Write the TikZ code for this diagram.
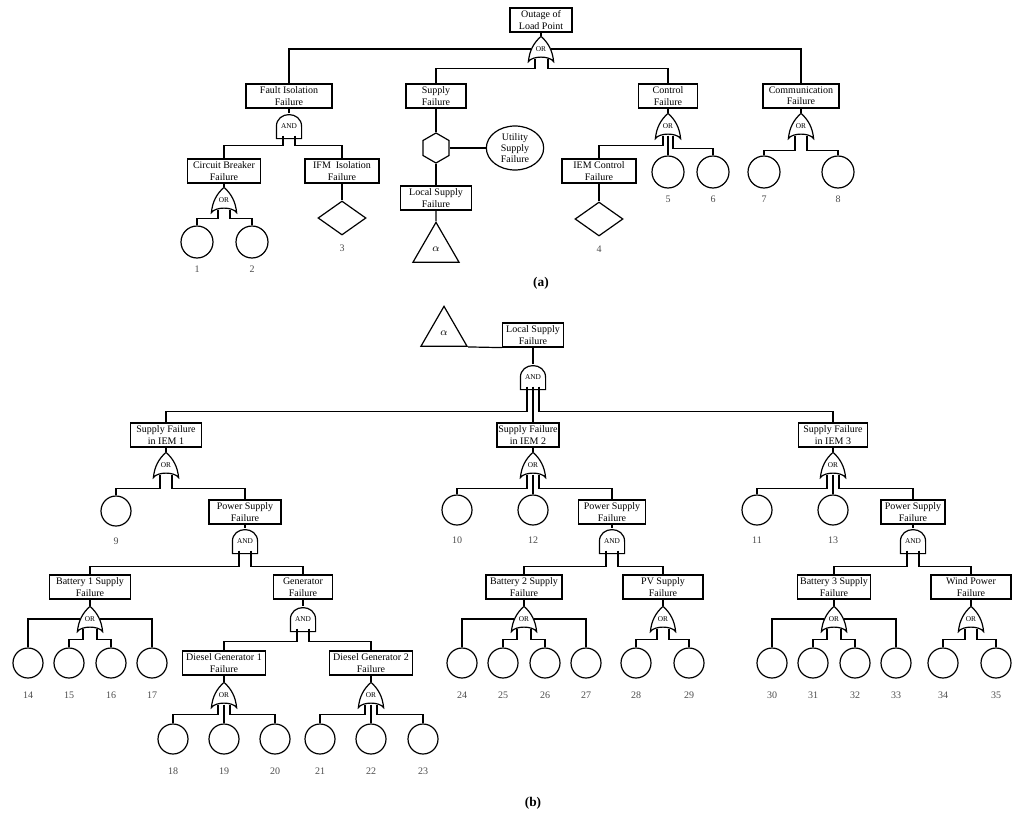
\documentclass[tikz,border=0pt]{standalone}
\usepackage{fontspec}
\setmainfont{Liberation Serif}
\usetikzlibrary{calc,shapes.geometric}
\newcommand\orsh[1]{\draw (#1.south west) .. controls ($(#1.south west)+(1,-11)$) and ($(#1.north)+(-7,6)$) .. (#1.north) .. controls ($(#1.north)+(7,6)$) and ($(#1.south east)+(-1,-11)$) .. (#1.south east) .. controls ($(#1.south east)+(-4,-6)$) and ($(#1.south west)+(4,-6)$) .. cycle;}
\newcommand\andsh[1]{\draw (#1.south west) -- ($(#1.south west)+(0,-12)$) .. controls ($(#1.south west)+(0,-28)$) and ($(#1.south east)+(0,-28)$) .. ($(#1.south east)+(0,-12)$) -- (#1.south east) -- cycle;}
\newcommand\leg[4]{\draw ($(#1.south)+(#2,-3)$) -- ($(#1.south)+(#2,#3)$) -| (#4.north);}
\begin{document}
\begin{tikzpicture}[x=0.75pt,y=-0.75pt,line width=0.9pt,
 box/.style={draw,align=center,minimum width=#1*0.75pt,minimum height=18pt,inner sep=1pt,font=\fontsize{7.5}{8.6}\selectfont},
 gate/.style={minimum width=18pt,minimum height=18pt,inner sep=0pt,font=\fontsize{5.5}{6}\selectfont},
 ev/.style={draw,circle,minimum size=#1*0.75pt,inner sep=0pt},
 num/.style={font=\fontsize{7.5}{8}\selectfont,text=black!70},
 dia/.style={draw,diamond,minimum width=36pt,minimum height=25.5pt,inner sep=0pt},
 tri/.style={draw,regular polygon,regular polygon sides=3,minimum size=40pt,inner sep=0pt,font=\fontsize{8}{9}\selectfont},
 lab/.style={font=\fontsize{10}{12}\selectfont\bfseries}]
\useasboundingbox (0,0) rectangle (1024,821);
% ===== (a) =====
\node[box=62] (top) at (541,20) {Outage of\\Load Point};
\node[gate] (g0) at (541,49) {OR}; \orsh{g0}
\node[box=86] (fi) at (289,96) {Fault Isolation\\Failure};
\node[box=60] (sf) at (436,96) {Supply\\Failure};
\node[box=59] (cf) at (668,96) {Control\\Failure};
\node[box=76] (cm) at (801,96) {Communication\\Failure};
\draw (top.south) -- (g0.north);
\draw ($(g0.west)+(3,0)$) -| (fi.north);
\draw ($(g0.east)+(-3,0)$) -| (cm.north);
\leg{g0}{-6}{7}{sf}
\leg{g0}{7}{7}{cf}
\node[gate] (fiA) at (289,126) {AND}; \andsh{fiA}
\draw (fi.south) -- (fiA.north);
\node[box=73] (cb) at (224,171) {Circuit Breaker\\Failure};
\node[box=74] (ifm) at (342,171) {IFM\ \ Isolation\\Failure};
\leg{fiA}{-6}{7}{cb}
\leg{fiA}{6}{7}{ifm}
\node[gate] (cbO) at (224,200) {OR}; \orsh{cbO}
\draw (cb.south) -- (cbO.north);
\node[ev=32,label={[num,label distance=2pt]below:1}] (c1) at (197,242) {};
\node[ev=32,label={[num,label distance=2pt]below:2}] (c2) at (252,242) {};
\leg{cbO}{-6}{6}{c1}
\leg{cbO}{6}{6}{c2}
\node[dia,label={[num,label distance=3pt]below:3}] (d3) at (342,218) {};
\draw (ifm.south) -- (d3.north);
\node[draw,regular polygon,regular polygon sides=6,shape border rotate=30,minimum size=22.5pt,inner sep=0pt] (hex) at (436,148) {};
\node[draw,ellipse,minimum width=43pt,minimum height=33pt,inner sep=0pt,align=center,font=\fontsize{7.5}{8.4}\selectfont] (ut) at (515,148) {Utility\\Supply\\Failure};
\draw (sf.south) -- (hex.north);
\draw (hex.east) -- (ut.west);
\node[box=71] (lsa) at (436,198) {Local Supply\\Failure};
\draw (hex.south) -- (lsa.north);
\node[tri] (ta) at (436,249) {$\alpha$};
\draw (lsa.south) -- (ta.north);
\node[gate] (cfO) at (668,126) {OR}; \orsh{cfO}
\draw (cf.south) -- (cfO.north);
\node[box=74] (iemc) at (599,171) {IEM Control\\Failure};
\node[ev=32,label={[num,label distance=2pt]below:5}] (c5) at (668,172) {};
\node[ev=32,label={[num,label distance=2pt]below:6}] (c6) at (713,172) {};
\leg{cfO}{-5}{7}{iemc}
\leg{cfO}{0}{7}{c5}
\leg{cfO}{5}{10}{c6}
\node[dia,label={[num,label distance=3pt]below:4}] (d4) at (599,219) {};
\draw (iemc.south) -- (d4.north);
\node[gate] (cmO) at (801,126) {OR}; \orsh{cmO}
\draw (cm.south) -- (cmO.north);
\node[ev=32,label={[num,label distance=2pt]below:7}] (c7) at (764,172) {};
\node[ev=32,label={[num,label distance=2pt]below:8}] (c8) at (838,172) {};
\leg{cmO}{-6}{12}{c7}
\leg{cmO}{6}{12}{c8}
\node[lab] (la) at (541,283) {(a)};
% ===== (b) =====
\node[tri] (tb) at (444,333) {$\alpha$};
\node[box=61] (lsb) at (533,335) {Local Supply\\Failure};
\draw (tb.corner 3) -- (lsb.south west);
\node[gate] (lsA) at (533,377) {AND}; \andsh{lsA}
\draw (lsb.south) -- (lsA.north);
\node[box=71] (i1) at (166,435) {Supply Failure\\in IEM 1};
\node[box=62] (i2) at (528,435) {Supply Failure\\in IEM 2};
\node[box=69] (i3) at (833,435) {Supply Failure\\in IEM 3};
\leg{lsA}{-6}{22}{i1}
\draw ($(lsA.south)+(0,-3)$) -- (lsA.south |- i2.north);
\leg{lsA}{6}{22}{i3}
% IEM1
\node[gate] (o1) at (166,465) {OR}; \orsh{o1}
\draw (i1.south) -- (o1.north);
\node[ev=30,label={[num,label distance=5pt]below:9}] (c9) at (116,511) {};
\node[box=72] (p1) at (245,512) {Power Supply\\Failure};
\leg{o1}{-6}{11}{c9}
\leg{o1}{6}{11}{p1}
\node[gate] (pa1) at (245,541) {AND}; \andsh{pa1}
\draw (p1.south) -- (pa1.north);
\node[box=81] (b1) at (90,587) {Battery 1 Supply\\Failure};
\node[box=59] (gen) at (303,587) {Generator\\Failure};
\leg{pa1}{-6}{13}{b1}
\leg{pa1}{6}{13}{gen}
\node[gate] (bo1) at (90,619) {OR}; \orsh{bo1}
\draw (b1.south) -- (bo1.north);
\node[ev=30,label={[num,label distance=6pt]below:14}] (c14) at (28,663) {};
\node[ev=30,label={[num,label distance=6pt]below:15}] (c15) at (69,663) {};
\node[ev=30,label={[num,label distance=6pt]below:16}] (c16) at (111,663) {};
\node[ev=30,label={[num,label distance=6pt]below:17}] (c17) at (152,663) {};
\draw ($(bo1.west)+(3,0)$) -| (c14.north);
\draw ($(bo1.east)+(-3,0)$) -| (c17.north);
\leg{bo1}{-7}{8}{c15}
\leg{bo1}{7}{8}{c16}
\node[gate] (ga) at (303,619) {AND}; \andsh{ga}
\draw (gen.south) -- (ga.north);
\node[box=83] (dg1) at (224,663) {Diesel Generator 1\\Failure};
\node[box=83] (dg2) at (371,663) {Diesel Generator 2\\Failure};
\leg{ga}{-6}{10}{dg1}
\leg{ga}{6}{10}{dg2}
\node[gate] (do1) at (224,695) {OR}; \orsh{do1}
\node[gate] (do2) at (371,695) {OR}; \orsh{do2}
\draw (dg1.south) -- (do1.north);
\draw (dg2.south) -- (do2.north);
\node[ev=30,label={[num,label distance=6pt]below:18}] (c18) at (173,739) {};
\node[ev=30,label={[num,label distance=6pt]below:19}] (c19) at (224,739) {};
\node[ev=30,label={[num,label distance=6pt]below:20}] (c20) at (275,739) {};
\node[ev=30,label={[num,label distance=6pt]below:21}] (c21) at (320,739) {};
\node[ev=30,label={[num,label distance=6pt]below:22}] (c22) at (371,739) {};
\node[ev=30,label={[num,label distance=6pt]below:23}] (c23) at (423,739) {};
\leg{do1}{-6}{7}{c18}
\leg{do1}{0}{7}{c19}
\leg{do1}{6}{7}{c20}
\leg{do2}{-6}{7}{c21}
\leg{do2}{0}{7}{c22}
\leg{do2}{6}{7}{c23}
% IEM2
\node[gate] (o2) at (533,465) {OR}; \orsh{o2}
\draw (i2.south -| o2.north) -- (o2.north);
\node[ev=30,label={[num,label distance=5pt]below:10}] (c10) at (457,510) {};
\node[ev=30,label={[num,label distance=5pt]below:12}] (c12) at (533,510) {};
\node[box=67] (p2) at (612,512) {Power Supply\\Failure};
\leg{o2}{-6}{11}{c10}
\leg{o2}{0}{11}{c12}
\leg{o2}{6}{11}{p2}
\node[gate] (pa2) at (612,541) {AND}; \andsh{pa2}
\draw (p2.south) -- (pa2.north);
\node[box=76] (b2) at (524,587) {Battery 2 Supply\\Failure};
\node[box=80] (pv) at (663,587) {PV Supply\\Failure};
\leg{pa2}{-6}{13}{b2}
\leg{pa2}{6}{13}{pv}
\node[gate] (bo2) at (524,619) {OR}; \orsh{bo2}
\draw (b2.south) -- (bo2.north);
\node[ev=30,label={[num,label distance=6pt]below:24}] (c24) at (462,663) {};
\node[ev=30,label={[num,label distance=6pt]below:25}] (c25) at (503,663) {};
\node[ev=30,label={[num,label distance=6pt]below:26}] (c26) at (545,663) {};
\node[ev=30,label={[num,label distance=6pt]below:27}] (c27) at (586,663) {};
\draw ($(bo2.west)+(3,0)$) -| (c24.north);
\draw ($(bo2.east)+(-3,0)$) -| (c27.north);
\leg{bo2}{-7}{8}{c25}
\leg{bo2}{7}{8}{c26}
\node[gate] (pvo) at (663,619) {OR}; \orsh{pvo}
\draw (pv.south) -- (pvo.north);
\node[ev=30,label={[num,label distance=6pt]below:28}] (c28) at (636,663) {};
\node[ev=30,label={[num,label distance=6pt]below:29}] (c29) at (689,663) {};
\leg{pvo}{-6}{8}{c28}
\leg{pvo}{6}{8}{c29}
% IEM3
\node[gate] (o3) at (833,465) {OR}; \orsh{o3}
\draw (i3.south) -- (o3.north);
\node[ev=30,label={[num,label distance=5pt]below:11}] (c11) at (757,510) {};
\node[ev=30,label={[num,label distance=5pt]below:13}] (c13) at (833,510) {};
\node[box=64] (p3) at (913,512) {Power Supply\\Failure};
\leg{o3}{-6}{11}{c11}
\leg{o3}{0}{11}{c13}
\leg{o3}{6}{11}{p3}
\node[gate] (pa3) at (913,541) {AND}; \andsh{pa3}
\draw (p3.south) -- (pa3.north);
\node[box=73] (b3) at (834,587) {Battery 3 Supply\\Failure};
\node[box=80] (wd) at (971,587) {Wind Power\\Failure};
\leg{pa3}{-6}{13}{b3}
\leg{pa3}{6}{13}{wd}
\node[gate] (bo3) at (834,619) {OR}; \orsh{bo3}
\draw (b3.south) -- (bo3.north);
\node[ev=30,label={[num,label distance=6pt]below:30}] (c30) at (772,663) {};
\node[ev=30,label={[num,label distance=6pt]below:31}] (c31) at (813,663) {};
\node[ev=30,label={[num,label distance=6pt]below:32}] (c32) at (855,663) {};
\node[ev=30,label={[num,label distance=6pt]below:33}] (c33) at (896,663) {};
\draw ($(bo3.west)+(3,0)$) -| (c30.north);
\draw ($(bo3.east)+(-3,0)$) -| (c33.north);
\leg{bo3}{-7}{8}{c31}
\leg{bo3}{7}{8}{c32}
\node[gate] (wo) at (971,619) {OR}; \orsh{wo}
\draw (wd.south) -- (wo.north);
\node[ev=30,label={[num,label distance=6pt]below:34}] (c34) at (943,663) {};
\node[ev=30,label={[num,label distance=6pt]below:35}] (c35) at (996,663) {};
\leg{wo}{-6}{8}{c34}
\leg{wo}{6}{8}{c35}
\node[lab] (lb) at (533,803) {(b)};
\end{tikzpicture}
\end{document}
